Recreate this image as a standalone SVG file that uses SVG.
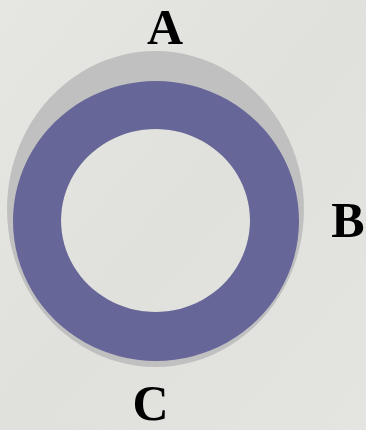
<svg xmlns="http://www.w3.org/2000/svg" width="366" height="430" viewBox="0 0 366 430">
<style>
.lbl{font-family:"Liberation Serif","Times New Roman",serif;font-weight:bold;font-size:50px;fill:#000;text-anchor:middle}
</style>
<defs>
<linearGradient id="bg" x1="0" y1="0" x2="1" y2="1">
<stop offset="0" stop-color="#e6e6e2"/>
<stop offset="0.5" stop-color="#e0e0dc"/>
<stop offset="1" stop-color="#e4e4e0"/>
</linearGradient>
</defs>
<rect width="366" height="430" fill="url(#bg)"/>
<g id="ring">
<path d="M155.5 51 A148.5 158 0 1 1 155.49 51 Z M155.5 129 A94.5 91.5 0 1 0 155.51 129 Z" fill="#c0c0c0" fill-rule="evenodd"/>
<path d="M156 81 A143 140 0 1 1 155.99 81 Z M155.5 129 A94.5 91.5 0 1 0 155.51 129 Z" fill="#666699" fill-rule="evenodd"/>
</g>
<g id="labelA"><text class="lbl" x="165" y="44">A</text></g>
<g id="labelB"><text class="lbl" x="348" y="237">B</text></g>
<g id="labelC"><text class="lbl" x="150.5" y="420">C</text></g>
</svg>
